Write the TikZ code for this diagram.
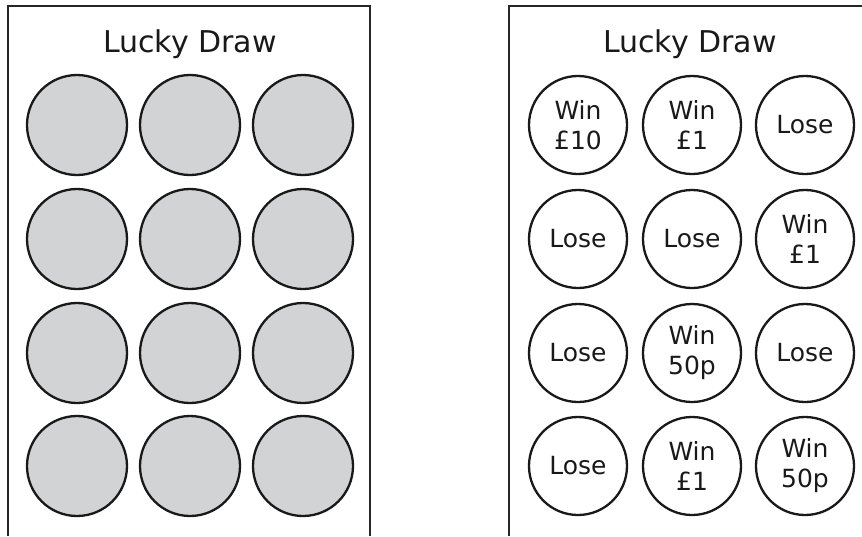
\documentclass[tikz,border=0pt]{standalone}
\usepackage{fontspec}
\setmainfont{DejaVu Sans}
\usetikzlibrary{positioning}

\begin{document}
\begin{tikzpicture}[
        x=1pt, y=-1pt,
        card/.style={line width=2.6pt, draw=black!85},
        title/.style={font=\fontsize{30}{36}\selectfont, text=black!90},
        hidden/.style={circle, draw=black!90, line width=2.3pt, fill={rgb,255:red,210;green,211;blue,213}, minimum size=100pt, inner sep=0pt},
        prize/.style={circle, draw=black!90, line width=2.3pt, minimum size=98pt, inner sep=0pt, align=center, font=\fontsize{25}{30}\selectfont, text=black!90}
    ]
    \useasboundingbox (0,0) rectangle (862,536);
    % the two cards, cut off at the bottom
    \draw[card] (8,536) |- (370,6) -- (370,536);
    \draw[card] (509,536) |- (875,6);
    \node[title] (TitleL) at (190,44) {Lucky Draw};
    \node[title] (TitleR) at (690,44) {Lucky Draw};

    % left card, still covered
    \node[hidden] (L11) at (77,125) {};
    \node[hidden] (L12) at (190,125) {};
    \node[hidden] (L13) at (303,125) {};
    \node[hidden] (L21) at (77,239) {};
    \node[hidden] (L22) at (190,239) {};
    \node[hidden] (L23) at (303,239) {};
    \node[hidden] (L31) at (77,353) {};
    \node[hidden] (L32) at (190,353) {};
    \node[hidden] (L33) at (303,353) {};
    \node[hidden] (L41) at (77,466) {};
    \node[hidden] (L42) at (190,466) {};
    \node[hidden] (L43) at (303,466) {};

    % right card, scratched
    \node[prize] (R11) at (578,125) {Win\\£10};
    \node[prize] (R12) at (692,125) {Win\\£1};
    \node[prize] (R13) at (805,125) {Lose};
    \node[prize] (R21) at (578,239) {Lose};
    \node[prize] (R22) at (692,239) {Lose};
    \node[prize] (R23) at (805,239) {Win\\£1};
    \node[prize] (R31) at (578,353) {Lose};
    \node[prize] (R32) at (692,353) {Win\\50p};
    \node[prize] (R33) at (805,353) {Lose};
    \node[prize] (R41) at (578,466) {Lose};
    \node[prize] (R42) at (692,466) {Win\\£1};
    \node[prize] (R43) at (805,466) {Win\\50p};
\end{tikzpicture}
\end{document}
